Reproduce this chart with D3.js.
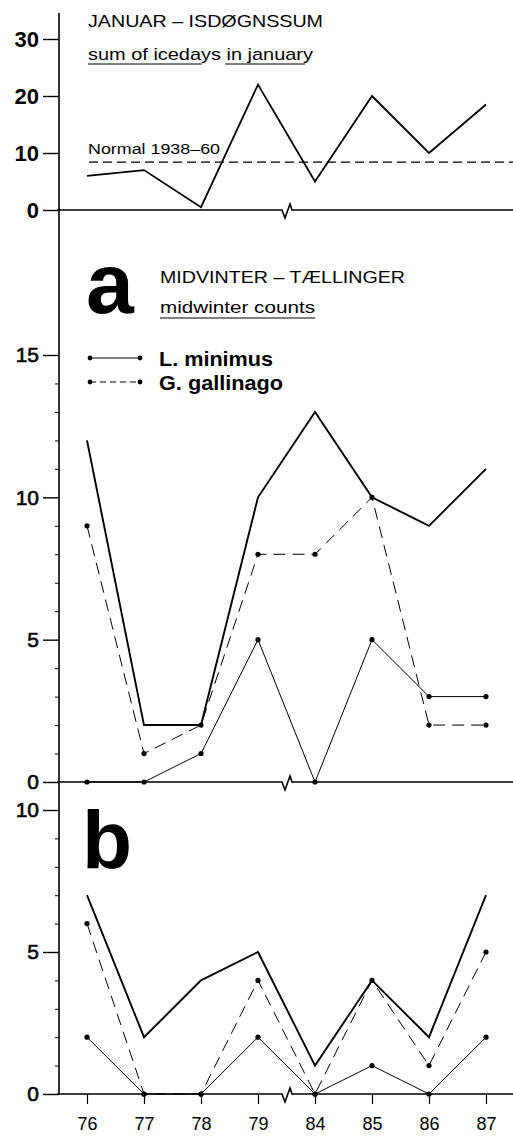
<!DOCTYPE html>
<html><head><meta charset="utf-8">
<script src="https://cdn.jsdelivr.net/npm/d3@7"></script>
<style>
html,body{margin:0;padding:0;background:#fff;}
svg{display:block;font-family:"Liberation Sans",Arial,Helvetica,sans-serif;}
</style></head>
<body>
<script>
const years = ['76','77','78','79','84','85','86','87'];
const iceDays = [6,7,0.5,22,5,20,10,18.5];
const normalIce = 8.4;
const aTotal = [12,2,2,10,13,10,9,11];
const aMinimus = [0,0,1,5,0,5,3,3];
const aGallinago = [9,1,2,8,8,10,2,2];
const bTotal = [7,2,4,5,1,4,2,7];
const bMinimus = [2,0,0,2,0,1,0,2];
const bGallinago = [6,0,0,4,0,4,1,5];
const topTicks = [0,10,20,30];
const aTicks = [0,5,10,15];
const bTicks = [0,5,10];
const legendLabels = ['L. minimus','G. gallinago'];

const W = 513, H = 1137, axisX = 59;
const svg = d3.select('body').append('svg').attr('width',W).attr('height',H);

const x = d3.scalePoint().domain(years).range([87,486]);
const yTop = d3.scaleLinear().domain([0,30]).range([210,39]);
const yA = d3.scaleLinear().domain([0,15]).range([782,355]);
const yB = d3.scaleLinear().domain([0,10]).range([1094,810]);

// vertical axis line
svg.append('line').attr('x1',axisX).attr('x2',axisX).attr('y1',13).attr('y2',1094)
  .attr('stroke','#000').attr('stroke-width',1.6);

function baseline(y){
  const p = d3.path();
  p.moveTo(axisX-2,y); p.lineTo(282,y); p.lineTo(285,y+8); p.lineTo(290,y-6); p.lineTo(292,y); p.lineTo(W,y);
  svg.append('path').attr('d',p.toString()).attr('fill','none').attr('stroke','#000').attr('stroke-width',1.6);
}
baseline(yTop(0)); baseline(yA(0)); baseline(yB(0));

function yAxis(scale, ticks, size, weight, strokeW, minor){
  const g = svg.append('g').attr('transform',`translate(${axisX},0)`)
    .call(d3.axisLeft(scale).tickValues(ticks).tickSize(16).tickPadding(4).tickFormat(d3.format('d')));
  g.select('.domain').remove();
  g.selectAll('.tick line').attr('stroke','#000').attr('stroke-width',1.4);
  g.selectAll('.tick text').attr('fill','#000').attr('font-size',size).attr('font-weight',weight)
    .attr('stroke','#000').attr('stroke-width',strokeW)
    .attr('font-family','"Liberation Sans",Arial,sans-serif');
  if (minor){
    const mg = svg.append('g').attr('transform',`translate(${axisX},0)`)
      .call(d3.axisLeft(scale).tickValues(d3.range(scale.domain()[0],scale.domain()[1]+1).filter(v=>v%5)).tickSize(4).tickFormat(''));
    mg.select('.domain').remove();
    mg.selectAll('.tick line').attr('stroke','#000').attr('stroke-width',1);
  }
}
yAxis(yTop, topTicks, 22, 'bold', 0, false);
yAxis(yA, aTicks, 21, 'normal', 0.6, true);
yAxis(yB, bTicks, 21, 'normal', 0.6, true);

// x axis
const xg = svg.append('g').attr('transform',`translate(0,${yB(0)})`)
  .call(d3.axisBottom(x).tickSize(10).tickPadding(13));
xg.select('.domain').remove();
xg.selectAll('.tick line').attr('stroke','#000').attr('stroke-width',1.2);
xg.selectAll('.tick text').attr('fill','#000').attr('font-size',18)
  .attr('font-family','"Liberation Sans",Arial,sans-serif');

function txt(s, tx, ty, size, weight, len){
  const t = svg.append('text').attr('x',tx).attr('y',ty).attr('font-size',size)
    .attr('font-weight',weight).attr('fill','#000').text(s);
  if (len) t.attr('textLength',len).attr('lengthAdjust','spacingAndGlyphs');
  return t;
}
function uline(x1,x2,y){
  svg.append('line').attr('x1',x1).attr('x2',x2).attr('y1',y).attr('y2',y).attr('stroke','#000').attr('stroke-width',1);
}

// top panel
txt('JANUAR  –  ISDØGNSSUM', 88, 27, 17, 'normal', 235);
txt('sum of icedays in january', 88, 60, 17, 'normal', 225);
uline(88,202,64); uline(225,305,64);
txt('Normal  1938–60', 88, 154, 14, 'normal', 132);
svg.append('line').attr('x1',89).attr('x2',W).attr('y1',yTop(normalIce)).attr('y2',yTop(normalIce))
  .attr('stroke','#000').attr('stroke-width',1.1).attr('stroke-dasharray','9,5');

const lineGen = (yS)=> d3.line().x((d,i)=>x(years[i])).y(d=>yS(d));
svg.append('path').attr('d',lineGen(yTop)(iceDays)).attr('fill','none').attr('stroke','#000').attr('stroke-width',1.8);

// panel a
txt('a', 86, 313, 86, 'bold');
txt('MIDVINTER  –  TÆLLINGER', 160, 283, 17, 'normal', 245);
txt('midwinter counts', 160, 313, 17, 'normal', 155);
uline(160,315,318);

// legend
function legendItem(y, dash, label, len){
  svg.append('line').attr('x1',90).attr('x2',140).attr('y1',y).attr('y2',y)
    .attr('stroke','#000').attr('stroke-width',1).attr('stroke-dasharray',dash);
  [90,140].forEach(cx=>svg.append('circle').attr('cx',cx).attr('cy',y).attr('r',2.4).attr('fill','#000'));
  txt(label, 159, y+8, 20, 'bold', len);
}
legendItem(358, null, legendLabels[0], 114);
legendItem(382, '6,4', legendLabels[1], 124);

function series(vals, yS, width, dash, dots){
  svg.append('path').attr('d',lineGen(yS)(vals)).attr('fill','none').attr('stroke','#000')
    .attr('stroke-width',width).attr('stroke-dasharray',dash);
  if (dots) svg.append('g').selectAll('circle').data(vals).join('circle')
    .attr('cx',(d,i)=>x(years[i])).attr('cy',d=>yS(d)).attr('r',2.6).attr('fill','#000');
}
series(aTotal, yA, 1.9, null, false);
series(aGallinago, yA, 1, '12,7', true);
series(aMinimus, yA, 1, null, true);

// panel b
txt('b', 82, 868, 82, 'bold');
series(bTotal, yB, 1.9, null, false);
series(bGallinago, yB, 1, '12,7', true);
series(bMinimus, yB, 1, null, true);
</script>
</body></html>
